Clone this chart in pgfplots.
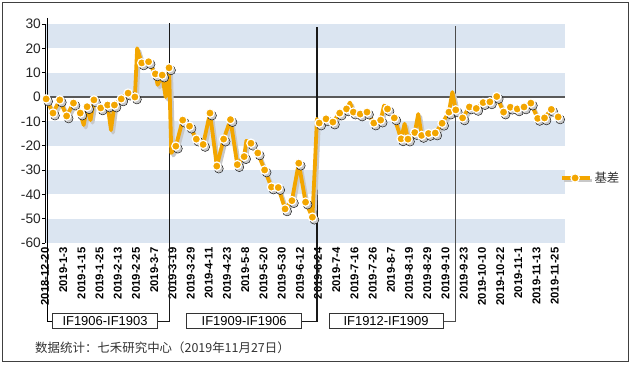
\documentclass[border=0pt]{standalone}
\usepackage{fontspec}
\setmainfont{Liberation Sans}
\newfontfamily\cjk{Noto Sans CJK SC}
\usepackage{pgfplots}
\usepackage{pgfplotstable}
\pgfplotsset{compat=1.18}
\definecolor{myorange}{RGB}{243,166,0}
\definecolor{band}{RGB}{219,229,241}
\definecolor{shadowc}{RGB}{200,200,200}

\pgfplotstableread{
i v
1 -0.8
4 -6.6
7 -1.2
10 -7.8
13 -2.5
16 -6.6
17.5 -11.5
19 -4
20.5 -9.5
22 -1.2
25 -4.5
28 -3.3
29.5 -13.6
31 -3.3
34 -0.8
37 1.6
40 0
41 20
43 14
46 14.5
49 9.5
50 5
52 9
53.5 0
55 12
56 -23
58 -20.2
61 -9.5
64 -12
67 -17.3
70 -19.5
73 -6.6
76 -28.4
79 -17.3
82 -9.3
85 -27.8
88 -24.5
89 -18
91 -19
94 -23
97 -30
100 -37
103 -37.2
106 -46
109 -42.6
112 -27.2
115 -43.2
118 -49.4
119 -30
120 -9
121 -10.7
124 -9
127 -10.3
130 -6.6
133 -4.9
134.5 -2.3
136 -6.2
139 -7
142 -6.2
145 -10.7
148 -9.5
149.5 -3.5
151 -4.9
154 -8.6
157 -17.2
158.5 -11
160 -17.3
163 -14.6
164.5 -7
166 -15.8
169 -15
172 -14.8
175 -10.8
178 -6.2
179.5 2
181 -5.3
184 -8.6
187 -4.1
190 -4.7
193 -2.3
196 -2
199 0.2
202 -6.2
205 -4.2
208 -4.9
211 -4.1
214 -2.5
217 -8.8
220 -8.6
223 -5.1
226 -8.2
}\linedata

\pgfplotstableread{
i v
1 -0.8
4 -6.6
7 -1.2
10 -7.8
13 -2.5
16 -6.6
19 -4
22 -1.2
25 -4.5
28 -3.3
31 -3.3
34 -0.8
37 1.6
40 0
43 14
46 14.5
49 9.5
52 9
55 12
58 -20.2
61 -9.5
64 -12
67 -17.3
70 -19.5
73 -6.6
76 -28.4
79 -17.3
82 -9.3
85 -27.8
88 -24.5
91 -19
94 -23
97 -30
100 -37
103 -37.2
106 -46
109 -42.6
112 -27.2
115 -43.2
118 -49.4
121 -10.7
124 -9
127 -10.3
130 -6.6
133 -4.9
136 -6.2
139 -7
142 -6.2
145 -10.7
148 -9.5
151 -4.9
154 -8.6
157 -17.2
160 -17.3
163 -14.6
166 -15.8
169 -15
172 -14.8
175 -10.8
178 -6.2
181 -5.3
184 -8.6
187 -4.1
190 -4.7
193 -2.3
196 -2
199 0.2
202 -6.2
205 -4.2
208 -4.9
211 -4.1
214 -2.5
217 -8.8
220 -8.6
223 -5.1
226 -8.2
}\markdata

\begin{document}
\begin{tikzpicture}
\useasboundingbox (0,0) rectangle (634bp,367bp);
\begin{axis}[
  at={(45bp,124bp)}, anchor=south west,
  scale only axis, width=520bp, height=219bp,
  xmin=0, xmax=228.5, ymin=-60, ymax=30,
  clip=false,
  axis line style={draw=none},
  xtick={0,8,...,224},
  xticklabels={2018-12-20,2019-1-3,2019-1-15,2019-1-25,2019-2-13,2019-2-25,2019-3-7,2019-3-19,2019-3-29,2019-4-11,2019-4-23,2019-5-8,2019-5-20,2019-5-30,2019-6-12,2019-6-24,2019-7-4,2019-7-16,2019-7-26,2019-8-7,2019-8-19,2019-8-29,2019-9-10,2019-9-23,2019-10-10,2019-10-22,2019-11-1,2019-11-13,2019-11-25},
  xtick style={draw=none},
  xticklabel style={rotate=90, anchor=east, font=\bfseries\fontsize{11.3}{12}\selectfont, inner sep=1.5bp},
  ytick={-60,-50,...,30},
  yticklabels={-60,-50,-40,-30,-20,-10,0,10,20,30},
  tick pos=left,
  tick align=outside,
  major tick length=3bp,
  ytick style={black, line width=0.8bp},
  yticklabel style={font=\fontsize{13.8}{15}\selectfont, text=black!85, inner sep=1bp},
  legend style={at={(1,0.297)}, anchor=west, xshift=-5bp, draw=none, fill=none,
    inner sep=0pt, font=\cjk\fontsize{12.5}{14}\selectfont, text=black!80,
    nodes={inner sep=1bp}},
  legend image code/.code={
    \draw[shadowc, line width=3.8bp] (1.5bp,-2.5bp) -- (29.5bp,-2.5bp);
    \draw[myorange, line width=3.8bp] (0bp,0bp) -- (28bp,0bp);
    \fill[myorange, draw=white, line width=1.2bp] (13bp,0bp) circle (4.2bp);
  },
]
% bands
\fill[band] (axis cs:0,20) rectangle (axis cs:228.5,30);
\fill[band] (axis cs:0,0) rectangle (axis cs:228.5,10);
\fill[band] (axis cs:0,-20) rectangle (axis cs:228.5,-10);
\fill[band] (axis cs:0,-40) rectangle (axis cs:228.5,-30);
\fill[band] (axis cs:0,-60) rectangle (axis cs:228.5,-50);
% zero line and y axis
\draw[black!65, line width=1.3bp] (axis cs:0,0) -- (axis cs:228.5,0);
\draw[black, line width=1bp] (axis cs:0,30) -- (axis cs:0,-60);
% contract switch lines and brackets
\draw[black, line width=1.2bp] (axis cs:1.19,32.5) -- (axis cs:1.19,-92.2) -- (axis cs:3.38,-92.2);
\draw[black!90, line width=1.2bp] (axis cs:49.35,-92.2) -- (axis cs:54.62,-92.2) -- (axis cs:54.62,30.4);
\draw[black!90, line width=1.2bp] (axis cs:112.8,-92.2) -- (axis cs:119.52,-92.2) -- (axis cs:119.52,28.8);
\draw[black!70, line width=1.2bp] (axis cs:174.89,-92.2) -- (axis cs:180.47,-92.2) -- (axis cs:180.47,29.2);
\node[draw=black!80, fill=white, line width=0.8bp, minimum width=104.6bp, minimum height=15bp, inner sep=0pt, font=\fontsize{13}{15}\selectfont] at (axis cs:26.37,-92.2) {IF1906-IF1903};
\node[draw=black!80, fill=white, line width=0.8bp, minimum width=115bp, minimum height=15bp, inner sep=0pt, font=\fontsize{13}{15}\selectfont] at (axis cs:87.53,-92.2) {IF1909-IF1906};
\node[draw=black!80, fill=white, line width=0.8bp, minimum width=114bp, minimum height=15bp, inner sep=0pt, font=\fontsize{13}{15}\selectfont] at (axis cs:149.85,-92.2) {IF1912-IF1909};
% shadow
\addplot[forget plot, shadowc, line width=3.8bp, line join=round, xshift=2bp, yshift=-2.5bp] table[x expr=\thisrow{i}-0.5,y=v] {\linedata};
\addplot[forget plot, only marks, mark=*, mark size=4.5bp, mark options={draw=none, fill=shadowc}, xshift=2bp, yshift=-2.5bp] table[x expr=\thisrow{i}-0.5,y=v] {\markdata};
% data
\addplot[forget plot, myorange, line width=3.8bp, line join=round] table[x expr=\thisrow{i}-0.5,y=v] {\linedata};
\addplot[forget plot, only marks, mark=*, mark size=4.2bp, mark options={draw=white, fill=myorange, line width=1.2bp}] table[x expr=\thisrow{i}-0.5,y=v] {\markdata};
\addlegendimage{myorange}
\addlegendentry{基差}
\end{axis}
\draw[black!75, line width=1bp] (2bp,5bp) rectangle (628bp,364bp);
\node[anchor=west, inner sep=0pt, font=\cjk\fontsize{12.5}{14}\selectfont, text=black!80] at (35bp,19bp) {数据统计：七禾研究中心（2019年11月27日）};
\end{tikzpicture}
\end{document}
